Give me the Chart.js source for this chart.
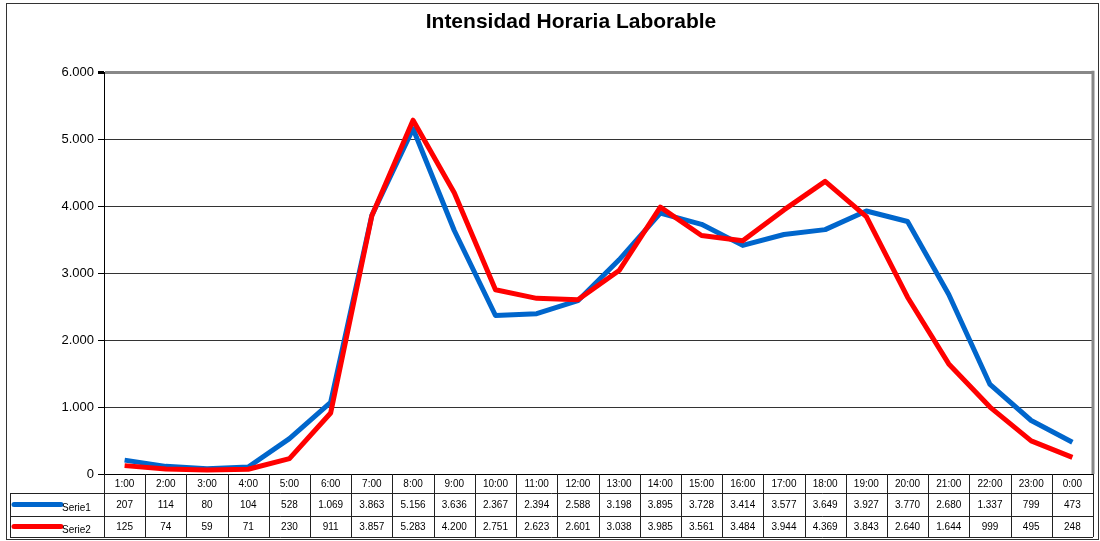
<!DOCTYPE html>
<html>
<head>
<meta charset="utf-8">
<title>Intensidad Horaria Laborable</title>
<script src="https://cdn.jsdelivr.net/npm/chart.js@4.4.1/dist/chart.umd.min.js"></script>
<style>
    body { margin: 0; background: #fff; }
    canvas { display: block; }
</style>
</head>
<body>
<canvas id="intensidadChart" width="1100" height="541"></canvas>
<script>
const horas = ['1:00', '2:00', '3:00', '4:00', '5:00', '6:00', '7:00', '8:00', '9:00', '10:00', '11:00', '12:00',
    '13:00', '14:00', '15:00', '16:00', '17:00', '18:00', '19:00', '20:00', '21:00', '22:00', '23:00', '0:00'];
const serie1 = [207, 114, 80, 104, 528, 1069, 3863, 5156, 3636, 2367, 2394, 2588,
    3198, 3895, 3728, 3414, 3577, 3649, 3927, 3770, 2680, 1337, 799, 473];
const serie2 = [125, 74, 59, 71, 230, 911, 3857, 5283, 4200, 2751, 2623, 2601,
    3038, 3985, 3561, 3484, 3944, 4369, 3843, 2640, 1644, 999, 495, 248];
const nombresSeries = ['Serie1', 'Serie2'];
const coloresSeries = ['#0066CC', '#FF0000'];
const yMax = 6000;
const yPaso = 1000;

const FONT = "'Liberation Sans', Arial, sans-serif";

// 1234 -> "1.234"
function formatNum(v) {
    return String(v).replace(/\B(?=(\d{3})+(?!\d))/g, '.');
}

// frame, plot borders and the data table under the x axis
const tablaPlugin = {
    id: 'tabla',
    beforeDraw(chart) {
        const ctx = chart.ctx;
        ctx.save();
        ctx.fillStyle = '#fff';
        ctx.fillRect(0, 0, chart.width, chart.height);
        ctx.strokeStyle = '#333';
        ctx.lineWidth = 1;
        ctx.strokeRect(6.5, 3.5, chart.width - 8, chart.height - 5);
        ctx.restore();
    },
    afterDraw(chart) {
        const ctx = chart.ctx;
        const area = chart.chartArea;
        const x = chart.scales.x;
        const half = (x.getPixelForValue(1) - x.getPixelForValue(0)) / 2;
        const filas = [area.bottom, area.bottom + 19, area.bottom + 42, area.bottom + 63];
        const izq = 10;

        ctx.save();

        // right edge of the plot
        ctx.strokeStyle = '#888';
        ctx.lineWidth = 3;
        ctx.beginPath();
        ctx.moveTo(area.right, area.top - 1.5);
        ctx.lineTo(area.right, area.bottom);
        ctx.stroke();

        // table grid
        ctx.strokeStyle = '#222';
        ctx.lineWidth = 1;
        ctx.beginPath();
        for (let i = 0; i <= horas.length; i++) {
            const px = Math.round(x.getPixelForValue(i) - half) + 0.5;
            ctx.moveTo(px, filas[0]);
            ctx.lineTo(px, filas[3]);
        }
        for (let r = 1; r < filas.length; r++) {
            ctx.moveTo(izq, filas[r] + 0.5);
            ctx.lineTo(area.right, filas[r] + 0.5);
        }
        ctx.moveTo(izq + 0.5, filas[1]);
        ctx.lineTo(izq + 0.5, filas[3]);
        ctx.stroke();

        ctx.fillStyle = '#000';
        ctx.font = '10px ' + FONT;
        ctx.textAlign = 'center';
        ctx.textBaseline = 'middle';
        horas.forEach((h, i) => {
            ctx.fillText(h, x.getPixelForValue(i), (filas[0] + filas[1]) / 2 + 1);
        });

        [serie1, serie2].forEach((datos, s) => {
            const yc = (filas[s + 1] + filas[s + 2]) / 2 + 1;
            ctx.textAlign = 'center';
            datos.forEach((v, i) => {
                ctx.fillText(formatNum(v), x.getPixelForValue(i), yc);
            });

            // legend key
            ctx.strokeStyle = coloresSeries[s];
            ctx.lineWidth = 5;
            ctx.lineCap = 'round';
            ctx.beginPath();
            ctx.moveTo(izq + 4, yc - 1);
            ctx.lineTo(izq + 51, yc - 1);
            ctx.stroke();
            ctx.textAlign = 'left';
            ctx.fillText(nombresSeries[s], izq + 52, yc + 3);
        });

        ctx.restore();
    }
};

document.addEventListener('DOMContentLoaded', function() {
    const ctx = document.getElementById('intensidadChart').getContext('2d');

    new Chart(ctx, {
        type: 'line',
        data: {
            labels: horas,
            datasets: [{
                label: nombresSeries[0],
                data: serie1,
                borderColor: coloresSeries[0],
                borderWidth: 5,
                pointRadius: 0,
                tension: 0,
                borderJoinStyle: 'round',
                order: 1
            }, {
                label: nombresSeries[1],
                data: serie2,
                borderColor: coloresSeries[1],
                borderWidth: 5,
                pointRadius: 0,
                tension: 0,
                borderJoinStyle: 'round',
                order: 0
            }]
        },
        options: {
            responsive: false,
            animation: false,
            layout: {
                padding: { left: 49, right: 7, top: 0, bottom: 0 }
            },
            plugins: {
                legend: { display: false },
                tooltip: { enabled: false },
                title: {
                    display: true,
                    text: 'Intensidad Horaria Laborable',
                    color: '#000',
                    font: { family: FONT, size: 21, weight: 'bold' },
                    padding: { top: 10, bottom: 37 }
                }
            },
            scales: {
                x: {
                    offset: true,
                    grid: { display: false },
                    border: { display: true, color: '#000', width: 1 },
                    ticks: { display: false },
                    afterFit(scale) { scale.height = 67; }
                },
                y: {
                    min: 0,
                    max: yMax,
                    ticks: {
                        stepSize: yPaso,
                        color: '#000',
                        padding: 4,
                        font: { family: FONT, size: 13 },
                        callback: (v) => formatNum(v)
                    },
                    grid: {
                        color: (c) => c.tick && c.tick.value === yMax ? '#888' : '#333',
                        lineWidth: (c) => c.tick && c.tick.value === yMax ? 3 : 1,
                        tickColor: '#000',
                        tickLength: 6
                    },
                    border: { display: true, color: '#000', width: 1 },
                    afterFit(scale) { scale.width = 55; }
                }
            }
        },
        plugins: [tablaPlugin]
    });
});
</script>
</body>
</html>
